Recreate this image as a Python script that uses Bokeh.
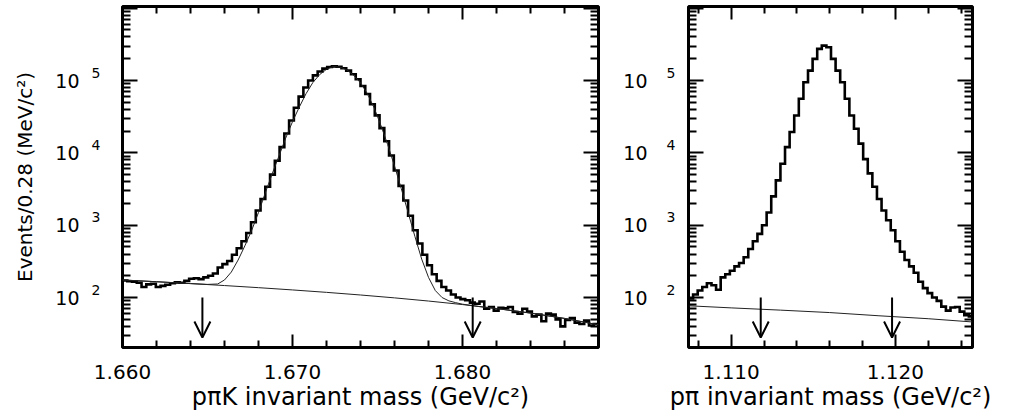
import numpy as np
from bokeh.plotting import figure
from bokeh.models import (FixedTicker, LinearAxis, LogAxis, Arrow, OpenHead,
                          PrintfTickFormatter, CustomJSTickFormatter)
from bokeh.layouts import row
from bokeh.embed import file_html
from bokeh.resources import INLINE

# ---------------- data ----------------
# Left panel: p pi K invariant mass (GeV/c^2), 0.28 MeV bins
lc_lo = 1.660
lc_bin = 0.00028
lc_counts = [172, 168, 165, 160, 140, 152, 155, 140, 145, 150, 158, 162, 160, 170, 182, 185, 180, 190, 200,
             215, 260, 290, 320, 390, 480, 600, 780, 1100, 1600, 2300, 3400, 5000, 7800, 12000, 18500, 28000,
             42000, 60000, 80000, 100000, 118000, 133000, 146000, 154000, 157000, 155000, 148000, 137000,
             122000, 104000, 84000, 65000, 47000, 33000, 22000, 14500, 9200,
             5700, 3500, 2200, 1350, 850, 560, 390, 280, 210, 170, 140, 125, 110, 100, 95, 92, 85,
             82, 88, 70, 74, 66, 72, 71, 74, 63, 60, 70, 64, 55, 58, 47, 60, 58, 50, 40, 49, 52, 45, 43, 48, 41, 43]
# fitted signal + background curve
lc_fit_mass = [1.6600, 1.6620, 1.6640, 1.6650, 1.6656, 1.6660, 1.6664, 1.6668, 1.6672, 1.6676, 1.6680,
               1.6684, 1.6688, 1.6692, 1.6696, 1.6700, 1.6704, 1.6708, 1.6712, 1.6716, 1.6720, 1.6724,
               1.6728, 1.6732, 1.6736, 1.6740, 1.6744, 1.6748, 1.6752, 1.6756, 1.6760, 1.6764, 1.6768,
               1.6772, 1.6776, 1.6780, 1.6784, 1.6788, 1.6792, 1.6796, 1.6800, 1.6805, 1.6810, 1.6820,
               1.6840, 1.6860, 1.6880]
lc_fit_vals = [175, 165.5, 156, 152, 154, 175, 225, 330, 520, 850, 1500,
               2800, 5100, 9000, 16000, 27000, 43000, 66000, 94000, 121000, 143000, 156000,
               153000, 140000, 118000, 93000, 66000, 42000, 24000, 13000, 6600, 3200, 1500,
               700, 340, 190, 125, 100, 90, 85, 81, 78, 75, 70.5,
               61, 51.5, 42]
# background curve
lc_bkg_mass = [1.660, 1.662, 1.664, 1.666, 1.668, 1.670, 1.672, 1.674, 1.676, 1.678, 1.680, 1.682, 1.684, 1.686, 1.688]
lc_bkg_vals = [175, 165.5, 156, 146.5, 137, 127.5, 118, 108.5, 99, 89.5, 80, 70.5, 61, 51.5, 42]
lc_cuts = [1.6647, 1.6806]

# Right panel: p pi invariant mass (GeV/c^2)
lam_lo = 1.1074
lam_bin = 0.00028
lam_counts = [97, 110, 125, 140, 158, 148, 128, 190, 210, 235, 270, 300, 360, 470, 600, 760, 1000, 1500,
              2500, 4170, 7080, 12000, 19400, 32900, 55900, 94800, 137000, 199000, 274000, 304000,
              288000, 199000, 137000, 94800, 55900, 32900, 21500, 13400, 8200, 5200, 3400, 2300, 1600,
              1170, 850, 600, 430, 330, 270, 220, 165, 135, 115, 100, 90, 75, 66, 73, 74, 64, 57, 55]
lam_bkg_mass = [1.1074, 1.110, 1.113, 1.116, 1.119, 1.122, 1.1247]
lam_bkg_vals = [77, 72, 67, 62, 56, 51, 46]
lam_cuts = [1.1118, 1.1198]

# ticks
x_major_lc = [1.660, 1.670, 1.680]
x_minor_lc = [1.662, 1.664, 1.666, 1.668, 1.672, 1.674, 1.676, 1.678, 1.682, 1.684, 1.686]
x_major_lam = [1.110, 1.120]
x_minor_lam = [1.108, 1.112, 1.114, 1.116, 1.118, 1.122, 1.124]
y_major = [1e2, 1e3, 1e4, 1e5, 1e6]
y_minor = [m * 10.0 ** e for e in range(1, 6) for m in range(2, 10)]
y_label_exps = [2, 3, 4, 5]

x_title_lc = "p\u03c0K invariant mass (GeV/c\u00b2)"
x_title_lam = "p\u03c0 invariant mass (GeV/c\u00b2)"
y_title = "Events/0.28 (MeV/c\u00b2)"

# ---------------- style ----------------
FONT = "DejaVu Sans"
Y_RANGE = (20.4, 1.055e6)
HEIGHT = 417
ARROW_TOP, ARROW_TIP = 100, 28
EXP_RAISE = 10 ** (8 / 72.33)   # superscript lift of the exponent labels (8 px)
BLANK = CustomJSTickFormatter(code="return '';")


def style_axis(ax, major_in, minor_in):
    ax.axis_line_color = None
    ax.major_tick_in = major_in
    ax.major_tick_out = 0
    ax.minor_tick_in = minor_in
    ax.minor_tick_out = 0
    ax.major_tick_line_width = 2
    ax.minor_tick_line_width = 2
    ax.major_tick_line_color = "black"
    ax.minor_tick_line_color = "black"


def hide_labels(ax):
    ax.formatter = BLANK
    ax.major_label_text_font_size = "0px"
    ax.major_label_standoff = 0


def text_axis(labels_code, ticks, font_size, standoff):
    ax = LogAxis(ticker=FixedTicker(ticks=ticks, minor_ticks=[]),
                 formatter=CustomJSTickFormatter(code=labels_code))
    ax.axis_line_color = None
    ax.major_tick_in = 0
    ax.major_tick_out = 0
    ax.minor_tick_in = 0
    ax.minor_tick_out = 0
    ax.major_tick_line_color = None
    ax.minor_tick_line_color = None
    ax.major_label_text_font = FONT
    ax.major_label_text_font_size = font_size
    ax.major_label_text_color = "black"
    ax.major_label_standoff = standoff
    return ax


def make_panel(x_range, frame_w, border_left, border_right, counts, lo, binw, xmaj, xmin,
               bkg_m, bkg_v, cuts, x_title, exp_standoff, ten_standoff, y_title_text=None,
               fit_m=None, fit_v=None):
    p = figure(width=border_left + frame_w + border_right, height=HEIGHT, x_range=x_range,
               y_range=Y_RANGE, y_axis_type="log", output_backend="svg", toolbar_location=None,
               min_border_left=border_left, min_border_right=border_right, min_border_top=6,
               min_border_bottom=70)
    p.xgrid.visible = False
    p.ygrid.visible = False
    p.outline_line_color = "black"
    p.outline_line_width = 3
    p.background_fill_color = "white"
    p.border_fill_color = "white"

    bx = p.xaxis[0]
    bx.ticker = FixedTicker(ticks=xmaj, minor_ticks=xmin)
    bx.formatter = PrintfTickFormatter(format="%.3f")
    style_axis(bx, 13, 7)
    bx.major_label_text_font = FONT
    bx.major_label_text_font_size = "20px"
    bx.major_label_text_color = "black"
    bx.major_label_standoff = 17
    bx.axis_label = x_title
    bx.axis_label_text_font = FONT
    bx.axis_label_text_font_size = "24px"
    bx.axis_label_text_font_style = "normal"
    bx.axis_label_text_color = "black"
    bx.axis_label_standoff = 1

    ly = p.yaxis[0]
    ly.ticker = FixedTicker(ticks=y_major, minor_ticks=y_minor)
    style_axis(ly, 15, 8)
    hide_labels(ly)

    top = LinearAxis(ticker=FixedTicker(ticks=xmaj, minor_ticks=xmin))
    style_axis(top, 13, 7)
    hide_labels(top)
    p.add_layout(top, "above")
    right = LogAxis(ticker=FixedTicker(ticks=y_major, minor_ticks=y_minor))
    style_axis(right, 15, 8)
    hide_labels(right)
    p.add_layout(right, "right")

    # y tick labels "10" with raised exponent
    exp_ax = text_axis("return Math.round(Math.log10(tick)).toString();",
                       [10.0 ** k * EXP_RAISE for k in y_label_exps], "14px", exp_standoff)
    p.add_layout(exp_ax, "left")
    ten_ax = text_axis("return '10';", [10.0 ** k for k in y_label_exps], "19px", ten_standoff)
    if y_title_text:
        ten_ax.axis_label = y_title_text
        ten_ax.axis_label_text_font = FONT
        ten_ax.axis_label_text_font_size = "20px"
        ten_ax.axis_label_text_font_style = "normal"
        ten_ax.axis_label_text_color = "black"
        ten_ax.axis_label_standoff = 15
    p.add_layout(ten_ax, "left")

    edges = lo + binw * np.arange(len(counts) + 1)
    p.step(edges, list(counts) + [counts[-1]], mode="after", line_color="black",
           line_width=2.6, line_join="miter")
    p.line(bkg_m, bkg_v, line_color="#222222", line_width=1)
    if fit_m is not None:
        p.line(fit_m, fit_v, line_color="#222222", line_width=1)

    for c in cuts:
        p.add_layout(Arrow(x_start=c, y_start=ARROW_TOP, x_end=c, y_end=ARROW_TIP,
                           line_width=2, line_color="black",
                           end=OpenHead(size=16, line_width=2, line_color="black")))
    return p


p1 = make_panel((1.660, 1.688), 476, 122, 4, lc_counts, lc_lo, lc_bin, x_major_lc, x_minor_lc,
                lc_bkg_mass, lc_bkg_vals, lc_cuts, x_title_lc, 22, 9, y_title_text=y_title,
                fit_m=lc_fit_mass, fit_v=lc_fit_vals)
p2 = make_panel((1.1074, 1.1247), 284, 86, 32, lam_counts, lam_lo, lam_bin, x_major_lam, x_minor_lam,
                lam_bkg_mass, lam_bkg_vals, lam_cuts, x_title_lam, 13, 16)

layout = row(p1, p2)
open("out.html", "w").write(file_html(layout, INLINE))
